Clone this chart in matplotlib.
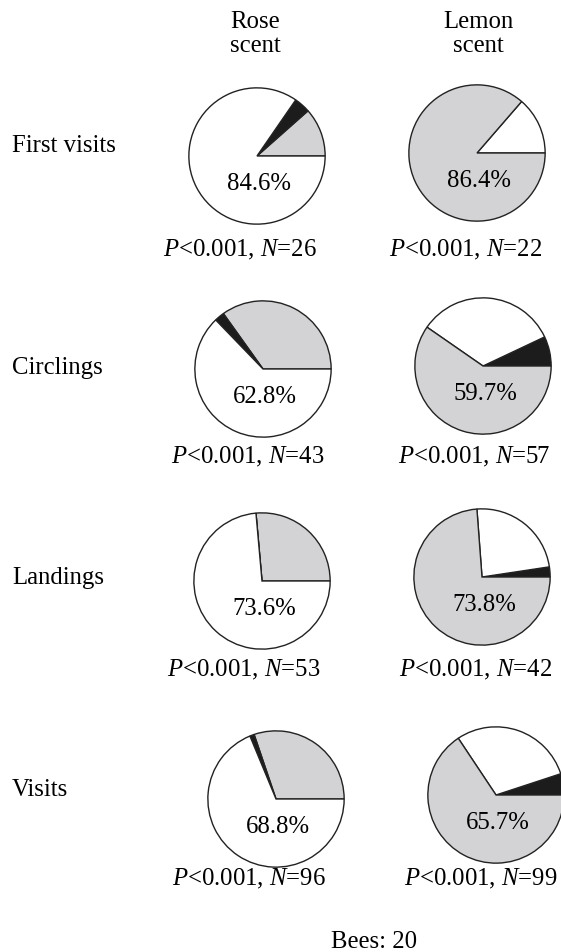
import matplotlib
matplotlib.use("Agg")
import matplotlib.pyplot as plt

plt.rcParams['font.family'] = ['Liberation Serif', 'DejaVu Serif']
plt.rcParams['mathtext.fontset'] = 'custom'
plt.rcParams['mathtext.rm'] = 'Liberation Serif'
plt.rcParams['mathtext.it'] = 'Liberation Serif:italic'

# Counts of choices per behaviour (N = sum of each row)
behaviours = ["First visits", "Circlings", "Landings", "Visits"]
columns = ["Rose\nscent", "Lemon\nscent"]

# rose scent: slices drawn counter-clockwise from 3 o'clock -> gray, black, white
rose_gray = [3, 15, 14, 29]
rose_black = [1, 1, 0, 1]
rose_white = [22, 27, 39, 66]
rose_pct = ["84.6%", "62.8%", "73.6%", "68.8%"]

# lemon scent: slices drawn counter-clockwise from 3 o'clock -> black, white, gray
lemon_black = [0, 4, 1, 5]
lemon_white = [3, 19, 10, 29]
lemon_gray = [19, 34, 31, 65]
lemon_pct = ["86.4%", "59.7%", "73.8%", "65.7%"]

p_labels = ["<0.001", "<0.001", "<0.001", "<0.001"]
n_bees = 20

GRAY = '#d3d3d5'
BLACK = '#1c1c1c'
WHITE = '#ffffff'

W, H = 561, 953
fig = plt.figure(figsize=(W / 100, H / 100), dpi=100)
FS = 17.8

# pixel layout (centres of pies, radius)
R = 69.5
centres = {
    0: [(257, 157), (477, 154)],
    1: [(263, 370), (483, 367)],
    2: [(262, 582), (482, 578)],
    3: [(276, 800), (496, 796)],
}
label_y = [146, 368, 578, 790]
p_pos = {
    0: [(240, 250), (466, 250)],
    1: [(248, 457), (474, 457)],
    2: [(244, 670), (476, 670)],
    3: [(249, 879), (481, 879)],
}


def fx(x):
    return x / W


def fy(y):
    return 1 - y / H


def draw_pie(cx, cy, values, colors, label):
    ax = fig.add_axes([fx(cx - R), fy(cy + R), 2 * R / W, 2 * R / H])
    ax.pie(values, colors=colors, startangle=0, counterclock=True, radius=1,
           wedgeprops=dict(edgecolor='#222222', linewidth=1.0))
    ax.set_xlim(-1.02, 1.02)
    ax.set_ylim(-1.02, 1.02)
    ax.set_aspect('equal')
    ax.axis('off')
    for p in ax.patches:
        p.set_clip_on(False)
    ax.text(0.03, -0.39, label, ha='center', va='center', fontsize=FS)


# column headers
fig.text(fx(255), fy(34), columns[0], ha='center', va='center', fontsize=FS,
         linespacing=1.12)
fig.text(fx(478), fy(34), columns[1], ha='center', va='center', fontsize=FS,
         linespacing=1.12)

for i, name in enumerate(behaviours):
    fig.text(fx(12), fy(label_y[i]), name, ha='left', va='center', fontsize=FS)

    n_rose = rose_gray[i] + rose_black[i] + rose_white[i]
    (cx, cy), (lx, ly) = centres[i]
    draw_pie(cx, cy, [rose_gray[i], rose_black[i], rose_white[i]],
             [GRAY, BLACK, WHITE], rose_pct[i])

    n_lemon = lemon_black[i] + lemon_white[i] + lemon_gray[i]
    draw_pie(lx, ly, [lemon_black[i], lemon_white[i], lemon_gray[i]],
             [BLACK, WHITE, GRAY], lemon_pct[i])

    (px1, py1), (px2, py2) = p_pos[i]
    fig.text(fx(px1), fy(py1), rf"$P${p_labels[i]}, $N$={n_rose}",
             ha='center', va='center', fontsize=FS)
    fig.text(fx(px2), fy(py2), rf"$P${p_labels[i]}, $N$={n_lemon}",
             ha='center', va='center', fontsize=FS)

fig.text(fx(374), fy(942), f"Bees: {n_bees}", ha='center', va='center',
         fontsize=FS)

fig.savefig("out.png", dpi=100)
